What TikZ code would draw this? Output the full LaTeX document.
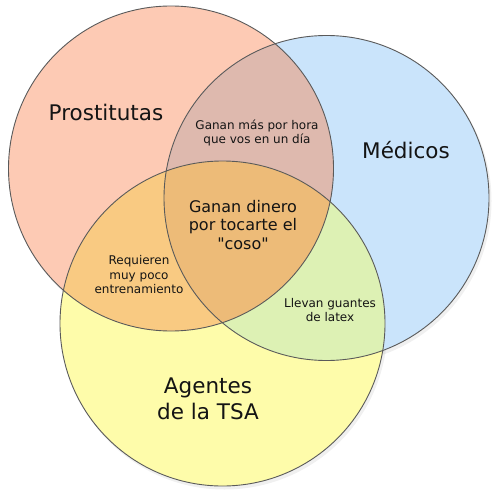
\documentclass[tikz,border=0pt]{standalone}
\usepackage{fontspec}
\setmainfont{DejaVu Sans}[Ligatures=TeXOff]
\definecolor{cR}{HTML}{FDCAB4}
\definecolor{cB}{HTML}{CAE4FB}
\definecolor{cY}{HTML}{FEFCAA}
\definecolor{cRB}{HTML}{DEB9AE}
\definecolor{cRY}{HTML}{F9CA82}
\definecolor{cBY}{HTML}{DDF1B4}
\definecolor{cRBY}{HTML}{EDBB78}
\definecolor{edge}{HTML}{5A5A5A}
\definecolor{ink}{HTML}{141414}
\begin{document}
\begin{tikzpicture}[x=1pt,y=-1pt,
  ring/.style={draw=edge,line width=0.9pt},
  big/.style={inner sep=0pt,align=center,text=ink,font=\fontsize{21.5}{26}\selectfont},
  mid/.style={inner sep=0pt,align=center,text=ink,font=\fontsize{16}{18.5}\selectfont},
  small/.style={inner sep=0pt,align=center,text=ink,font=\fontsize{12}{14.5}\selectfont}]
\useasboundingbox (0,0) rectangle (500,495);
\fill[white] (0,0) rectangle (500,495);
\coordinate (R) at (171,168.5);
\coordinate (B) at (326.5,198);
\coordinate (Y) at (222.5,323.5);
% soft shadows
\fill[black,opacity=0.06] ([shift={(2,3)}]B) circle[radius=163];
\fill[black,opacity=0.06] ([shift={(2,3)}]Y) circle[radius=163];
\fill[black,opacity=0.05] ([shift={(2,3)}]R) circle[radius=163];
% base fills
\fill[cR] (R) circle[radius=162.5];
\fill[cB] (B) circle[radius=162.5];
\fill[cY] (Y) circle[radius=162.5];
\begin{scope}
  \clip (R) circle[radius=162.5];
  \fill[cRB] (B) circle[radius=162.5];
  \fill[cRY] (Y) circle[radius=162.5];
\end{scope}
\begin{scope}
  \clip (B) circle[radius=162.5];
  \fill[cBY] (Y) circle[radius=162.5];
\end{scope}
\begin{scope}
  \clip (R) circle[radius=162.5];
  \clip (B) circle[radius=162.5];
  \fill[cRBY] (Y) circle[radius=162.5];
\end{scope}
% outlines
\draw[ring] (R) circle[radius=162.5];
\draw[ring] (B) circle[radius=162.5];
\draw[ring] (Y) circle[radius=162.5];
% labels
\node[big] (tP) at (106,112) {Prostitutas};
\node[big] (tM) at (406,150) {Médicos};
\node[big] (tA) at (208,399) {Agentes\\de la TSA};
\node[small] (tRB) at (257,133) {Ganan más por hora\\que vos en un día};
\node[mid] (tRBY) at (243,225) {Ganan dinero\\por tocarte el\\"coso"};
\node[small] (tRY) at (139,275) {Requieren\\muy poco\\entrenamiento};
\node[small] (tBY) at (330,310) {Llevan guantes\\de latex};
\end{tikzpicture}
\end{document}
